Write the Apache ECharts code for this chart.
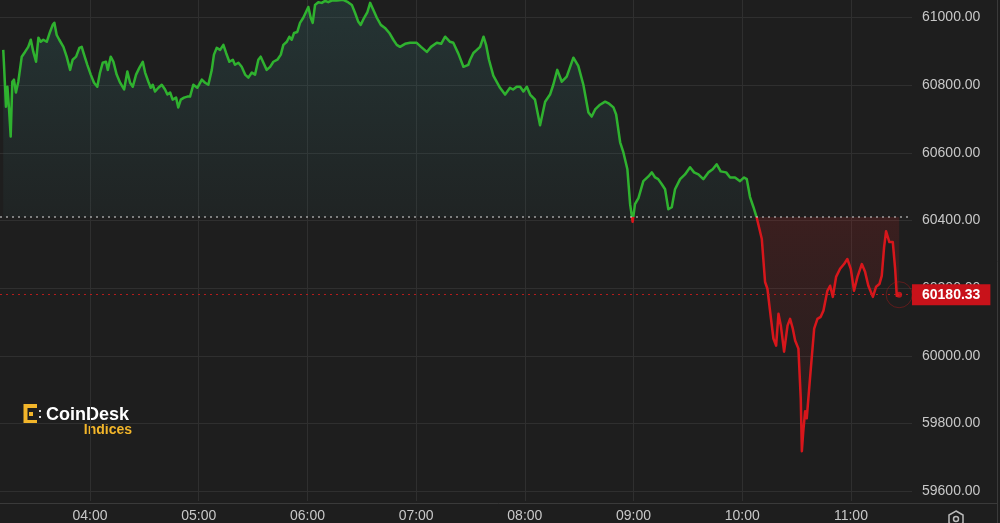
<!DOCTYPE html>
<html>
<head>
<meta charset="utf-8">
<script src="https://cdn.jsdelivr.net/npm/echarts@6/dist/echarts.min.js"></script>
<style>
html,body{margin:0;padding:0;background:#1e1e1e;}
#chart{width:1000px;height:523px;}
</style>
</head>
<body>
<div id="chart"></div>
<script>
// Time in minutes since midnight, price in USD
const timesA = [192.1,193.1,193.6,194.4,195.3,196.2,197.1,198.0,199.1,200.4,202.3,204.1,205.9,207.3,208.7,210.2,211.5,212.8,214.2,216.1,217.9,219.4,220.3,221.6,223.0,225.3,227.1,229.0,230.4,232.3,234.1,235.4,236.7,238.5,240.4,242.2,244.0,245.5,247.0,248.8,249.8,251.4,252.9,254.7,256.6,258.8,260.6,262.1,263.6,265.4,267.2,269.1,270.4,272.2,273.5,274.6,275.9,277.7,279.6,281.4,282.7,284.2,285.6,287.5,288.7,290.1,291.9,293.7,295.2];
const pricesA = [60904,60795,60736,60795,60728,60648,60810,60816,60778,60810,60884,60898,60913,60934,60898,60869,60940,60928,60934,60928,60957,60978,60984,60948,60934,60913,60884,60845,60875,60884,60910,60913,60890,60860,60831,60807,60795,60837,60866,60869,60845,60884,60869,60831,60807,60787,60840,60807,60795,60831,60851,60869,60837,60810,60792,60801,60781,60792,60801,60787,60772,60778,60757,60763,60734,60757,60763,60766,60766];

const timesB = [297.0,299.2,301.7,303.5,305.3,307.2,308.4,309.9,311.8,313.6,315.1,316.9,318.8,320.0,321.9,323.7,325.6,327.4,329.3,331.1,332.9,334.2,335.7,337.5,339.4,341.2,343.4,345.3,346.7,348.6,350.0,351.3,352.6,354.4,355.9,357.7,359.2,360.5,361.8,362.9,364.2,366.0,367.9,369.7,371.5,373.4,376.2,379.7,382.4,384.5,386.3,388.1,389.4,391.3,393.1,394.6,396.4,398.3,400.5,402.8,405.2,407.4,409.3,411.1];
const pricesB = [60801,60792,60816,60807,60801,60845,60890,60910,60904,60919,60895,60869,60875,60860,60866,60854,60831,60822,60837,60831,60875,60884,60866,60845,60854,60869,60875,60890,60919,60928,60943,60934,60954,60957,60984,60999,61016,61031,60999,60984,61037,61045,61043,61049,61045,61050,61050,61052,61045,61037,61013,60987,60978,60999,61016,61043,61022,60999,60978,60969,60954,60934,60919,60913];

const timesC = [413.9,416.6,420.3,422.7,425.9,428.2,431.4,433.8,436.0,438.7,440.5,443.3,446.1,448.8,449.8,451.6,453.5,455.3,457.2,458.6,460.2,462.6,466.3,469.1,471.8,473.5,475.5,477.4,479.2,481.1,482.9,485.6,488.4,491.2,493.9,495.7,497.9,500.4,503.1,504.0,506.8,509.5,512.3,515.1,516.9,518.8,521.5,524.3,526.5,528.9,530.4,532.6,534.4,536.6,538.1,539.5,540.8,542.7,545.4,548.2,550.1,551.9,553.6,555.6,557.4,559.2,561.1,562.9,565.7,568.4,571.2,573.4,575.8,578.5,581.3,583.7,585.9,588.1,591.1,593.3,596.0,598.8,601.0,602.5,604.3,606.2,608.0];
const pricesC = [60922,60925,60925,60913,60898,60913,60925,60922,60943,60928,60925,60893,60854,60860,60875,60895,60904,60913,60943,60919,60875,60828,60792,60772,60792,60787,60795,60795,60781,60795,60772,60757,60681,60751,60772,60801,60845,60810,60825,60822,60881,60857,60801,60719,60707,60728,60742,60751,60745,60734,60713,60631,60601,60551,60448,60396,60448,60466,60516,60530,60542,60527,60522,60507,60492,60433,60439,60492,60522,60536,60557,60542,60536,60522,60542,60551,60566,60545,60542,60527,60527,60516,60527,60522,60469,60439,60408];

const timesD = [610.8,612.6,613.9,615.4,617.2,618.7,620.0,621.3,623.1,625.0,626.4,627.9,629.2,631.0,632.3,632.9,633.7,634.7,635.6,637.4,639.7,641.5,643.3,644.8,647.0,648.5,650.0,651.8,654.0,656.2,658.0,659.9,661.7,663.6,666.0,667.8,669.6,672.1,673.9,675.7,677.0,678.3,679.4,681.2,683.1,684.4,685.3,686.6];
const pricesD = [60345,60218,60198,60130,60051,60030,60124,60089,60012,60089,60109,60080,60045,60021,59874,59718,59777,59836,59815,59933,60080,60109,60115,60133,60192,60207,60174,60233,60257,60271,60286,60257,60192,60233,60271,60248,60207,60174,60204,60212,60236,60321,60368,60336,60336,60257,60177,60180.33];

const baselinePrice = 60410;      // previous reference (dotted white line)
const lastPrice = 60180.33;       // current price label

const times = timesA.concat(timesB, timesC, timesD);
const prices = pricesA.concat(pricesB, pricesC, pricesD);
const seriesData = times.map((t, i) => [t, prices[i]]);
const lastPoint = [times[times.length - 1], prices[prices.length - 1]];

const GREEN = '#2fb22f';
const RED = '#d8161b';
const FONT = 'Liberation Sans, Arial, sans-serif';
const H = 523;

function fmtTime(v) {
  const h = Math.floor(v / 60), m = Math.round(v - h * 60);
  return String(h).padStart(2, '0') + ':' + String(m).padStart(2, '0');
}

const chart = echarts.init(document.getElementById('chart'), null, { renderer: 'canvas' });

function gradients(yBase) {
  const o = Math.min(0.999, Math.max(0.001, yBase / H));
  return {
    line: {
      type: 'linear', x: 0, y: 0, x2: 0, y2: H, global: true,
      colorStops: [
        { offset: 0, color: GREEN },
        { offset: o, color: GREEN },
        { offset: o + 0.0005, color: RED },
        { offset: 1, color: RED }
      ]
    },
    area: {
      type: 'linear', x: 0, y: 0, x2: 0, y2: H, global: true,
      colorStops: [
        { offset: 0, color: 'rgba(60,130,130,0.22)' },
        { offset: o, color: 'rgba(60,130,130,0.06)' },
        { offset: o + 0.0005, color: 'rgba(200,35,35,0.17)' },
        { offset: Math.min(0.98, o + 0.46), color: 'rgba(200,35,35,0.02)' },
        { offset: 1, color: 'rgba(200,35,35,0)' }
      ]
    }
  };
}

const g0 = gradients(218);

const option = {
  backgroundColor: '#1e1e1e',
  animation: false,
  grid: { left: 0, right: 88, top: 0, bottom: 20 },
  xAxis: {
    type: 'value',
    min: 190.3,
    max: 693.7,
    minInterval: 60,
    maxInterval: 60,
    axisLine: { show: false },
    axisTick: { show: false },
    axisLabel: {
      color: '#c8c8c8', fontSize: 14, fontFamily: FONT, margin: 8,
      showMinLabel: false, showMaxLabel: false,
      formatter: fmtTime
    },
    splitLine: { show: true, showMinLine: false, showMaxLine: false, lineStyle: { color: '#2f2f2f', width: 1 } }
  },
  yAxis: {
    type: 'value',
    position: 'right',
    min: 59570.7,
    max: 61051.5,
    minInterval: 200,
    maxInterval: 200,
    axisLine: { show: false },
    axisTick: { show: false },
    axisLabel: {
      color: '#c8c8c8', fontSize: 14, fontFamily: FONT, margin: 10,
      showMinLabel: false, showMaxLabel: false,
      formatter: v => v.toFixed(2)
    },
    splitLine: { show: true, showMinLine: false, showMaxLine: false, lineStyle: { color: '#2f2f2f', width: 1 } }
  },
  series: [
    {
      id: 'price',
      type: 'line',
      data: seriesData,
      showSymbol: false,
      symbol: 'none',
      lineStyle: { width: 2.5, color: g0.line, join: 'round' },
      areaStyle: { origin: baselinePrice, opacity: 1, color: g0.area },
      markLine: {
        silent: true,
        symbol: 'none',
        data: [
          {
            yAxis: baselinePrice,
            lineStyle: { color: 'rgba(200,200,200,0.75)', type: [2, 4], width: 1.5 },
            label: { show: false }
          },
          {
            yAxis: lastPrice,
            lineStyle: { color: '#b41c1c', type: [2, 4], width: 1 },
            label: {
              show: true,
              position: 'end',
              distance: 0,
              formatter: () => lastPrice.toFixed(2),
              color: '#ffffff',
              fontWeight: 'bold',
              fontSize: 14,
              fontFamily: FONT,
              backgroundColor: '#c8121a',
              padding: [3, 10, 3, 10],
              lineHeight: 15
            }
          }
        ]
      },
      z: 3
    },
    {
      type: 'scatter',
      data: [lastPoint],
      symbol: 'circle',
      symbolSize: 26,
      silent: true,
      itemStyle: { color: 'rgba(0,0,0,0)', borderColor: 'rgba(190,25,25,0.5)', borderWidth: 1 },
      z: 4
    },
    {
      type: 'scatter',
      data: [lastPoint],
      symbol: 'circle',
      symbolSize: 6,
      silent: true,
      itemStyle: { color: RED },
      z: 5
    }
  ],
  graphic: [
    { type: 'line', silent: true, shape: { x1: 0, y1: 503.5, x2: 997, y2: 503.5 }, style: { stroke: '#3a3a3a', lineWidth: 1 } },
    { type: 'line', silent: true, shape: { x1: 997.5, y1: 0, x2: 997.5, y2: 523 }, style: { stroke: '#3a3a3a', lineWidth: 1 } },
    // CoinDesk Indices logo
    { type: 'polyline', silent: true, shape: { points: [[37, 406], [25.5, 406], [25.5, 422], [37, 422]] }, style: { stroke: '#f2b52a', lineWidth: 4, fill: null } },
    { type: 'rect', silent: true, shape: { x: 29, y: 412, width: 4, height: 4 }, style: { fill: '#f2b52a' } },
    { type: 'rect', silent: true, shape: { x: 39, y: 410, width: 2, height: 2 }, style: { fill: '#dddddd' } },
    { type: 'rect', silent: true, shape: { x: 39, y: 416, width: 2, height: 2 }, style: { fill: '#dddddd' } },
    { type: 'text', silent: true, style: { x: 46, y: 415, text: 'CoinDesk', fill: '#ffffff', font: 'bold 18px ' + FONT, textVerticalAlign: 'middle' } },
    { type: 'text', silent: true, style: { x: 132, y: 430, text: 'Indices', fill: '#f2b52a', font: 'bold 14px ' + FONT, textAlign: 'right', textVerticalAlign: 'middle' } },
    // settings icon
    { type: 'polygon', silent: true, shape: { points: [[956, 511], [963, 515], [963, 523], [956, 527], [949, 523], [949, 515]] }, style: { stroke: '#bbbbbb', lineWidth: 1.5, fill: null } },
    { type: 'circle', silent: true, shape: { cx: 956, cy: 519, r: 2.5 }, style: { stroke: '#bbbbbb', lineWidth: 1.5, fill: null } }
  ]
};

chart.setOption(option);

// place the green/red split exactly at the baseline's pixel position
const yBase = chart.convertToPixel({ yAxisIndex: 0 }, baselinePrice);
if (isFinite(yBase)) {
  const g = gradients(yBase);
  chart.setOption({
    series: [{ id: 'price', lineStyle: { color: g.line }, areaStyle: { color: g.area } }]
  });
}
</script>
</body>
</html>
